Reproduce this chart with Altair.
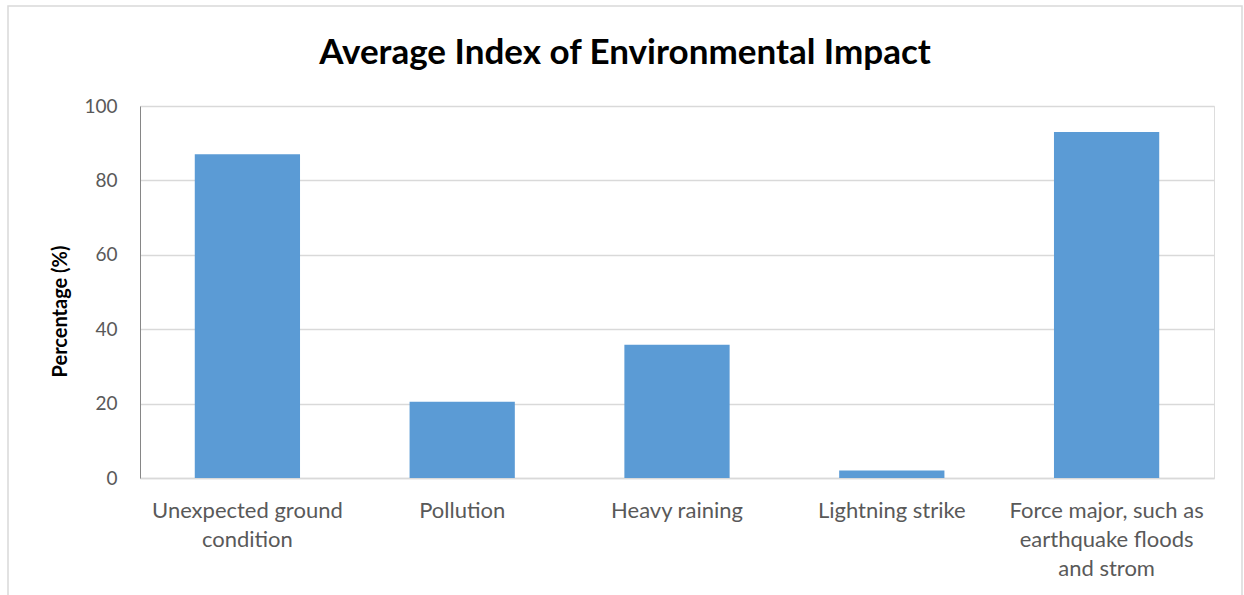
import altair as alt
import pandas as pd

# Survey results: average index of environmental impact per factor
categories = [
    "Unexpected ground condition",
    "Pollution",
    "Heavy raining",
    "Lightning strike",
    "Force major, such as earthquake floods and strom",
]
values = [87.0, 20.5, 35.8, 2.0, 93.0]

# Axis labels wrapped onto several lines
label_lines = [
    ["Unexpected ground", "condition"],
    ["Pollution"],
    ["Heavy raining"],
    ["Lightning strike"],
    ["Force major, such as", "earthquake floods", "and strom"],
]
y_ticks = [0, 20, 40, 60, 80, 100]
title_text = "Average Index of Environmental Impact"

df = pd.DataFrame({"factor": categories, "value": values})

mapping = ", ".join(
    "'" + c + "': [" + ", ".join("'" + s + "'" for s in lines) + "]"
    for c, lines in zip(categories, label_lines)
)
label_expr = "{" + mapping + "}[datum.value]"

FONT = "Lato"
W, H = 1074, 372

bars = alt.Chart(df).mark_bar(color="#5b9bd5").encode(
    x=alt.X(
        "factor:N",
        sort=None,
        scale=alt.Scale(paddingInner=0.51, paddingOuter=0.255),
        axis=alt.Axis(
            title=None,
            labelAngle=0,
            labelExpr=label_expr,
            labelFont=FONT,
            labelFontSize=22,
            labelColor="#595959",
            labelLineHeight=29,
            labelPadding=32,
            labelBaseline="middle",
            ticks=False,
            domain=True,
            domainColor="#d9d9d9",
            domainWidth=1.5,
            labelLimit=300,
        ),
    ),
    y=alt.Y(
        "value:Q",
        scale=alt.Scale(domain=[0, 100], nice=False),
        axis=alt.Axis(
            values=y_ticks,
            title="Percentage (%)",
            titleFont=FONT,
            titleFontSize=20,
            titleFontWeight="bold",
            titleColor="#000000",
            titleX=-80,
            titleY=205,
            titleAngle=270,
            titleAlign="center",
            titleBaseline="middle",
            labelFont=FONT,
            labelFontSize=19,
            labelColor="#595959",
            labelPadding=23,
            ticks=False,
            domainColor="#868686",
            domainWidth=1,
            gridColor="#d9d9d9",
            gridWidth=1.5,
        ),
    ),
)

# Outer chart border
frame = alt.Chart(pd.DataFrame({"k": [0]})).mark_rect(
    fill=None, stroke="#d9d9d9", strokeWidth=1.5
).encode(
    x=alt.value(-132),
    x2=alt.value(1102),
    y=alt.value(-100),
    y2=alt.value(520),
)

# Chart title, centred over the whole bordered area
title = alt.Chart(pd.DataFrame({"t": [title_text]})).mark_text(
    font=FONT,
    fontSize=35,
    fontWeight="bold",
    color="#000000",
    align="center",
    baseline="middle",
).encode(
    text="t:N",
    x=alt.value(485),
    y=alt.value(-53),
)

chart = (
    alt.layer(frame, bars, title)
    .properties(
        width=W,
        height=H,
        padding={"left": 140, "top": 106, "right": 30, "bottom": 117},
        autosize=alt.AutoSizeParams(type="none"),
    )
    .configure_view(stroke=None)
    .configure(background="#ffffff")
)

chart.save("out.html", embed_options={"renderer": "svg", "actions": False})
